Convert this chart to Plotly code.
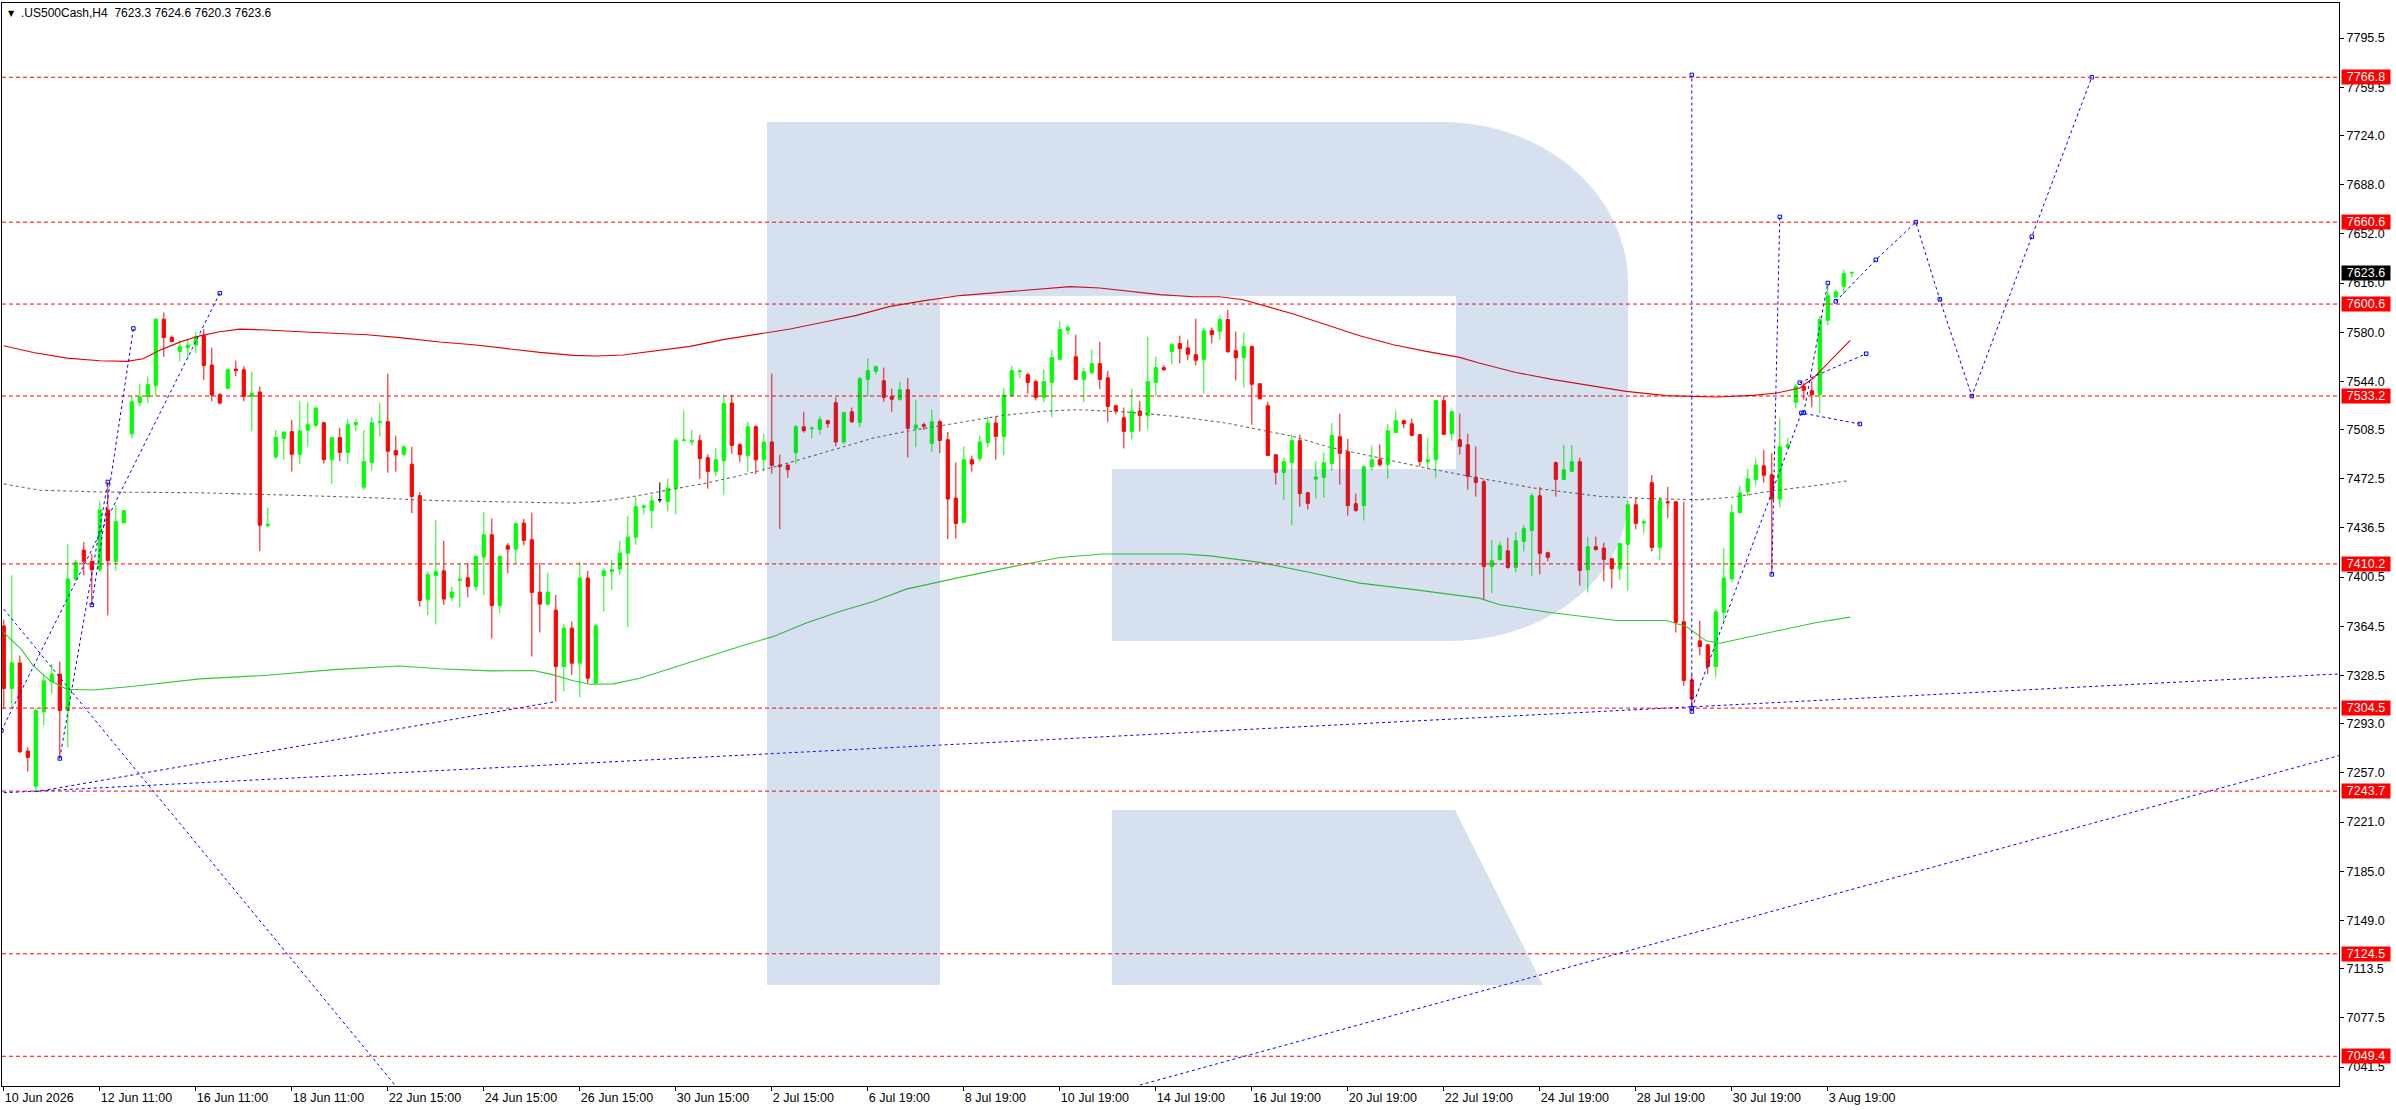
import plotly.graph_objects as go

SYMBOL = '.US500Cash,H4'
LAST_OHLC = [7623.3, 7624.6, 7620.3, 7623.6]

# H4 candles, oldest first (bar index = position in the list)
OPEN = [
    7364.7, 7318.8, 7337.6, 7273.0, 7247.3, 7302.0, 7324.0, 7329.4, 7302.8, 7399.1,
    7420.3, 7411.9, 7405.9, 7449.8, 7411.9, 7440.3, 7505.4, 7528.5, 7532.6, 7540.7,
    7589.5, 7576.2, 7565.9, 7568.6, 7570.5, 7577.6, 7555.9, 7534.2, 7538.8, 7552.9,
    7552.4, 7532.8, 7536.1, 7438.2, 7488.6, 7502.2, 7507.1, 7490.5, 7508.2, 7511.7,
    7513.6, 7486.7, 7502.7, 7491.9, 7512.2, 7466.4, 7484.6, 7513.6, 7514.4, 7493.2,
    7490.5, 7483.2, 7460.2, 7384.2, 7401.8, 7405.1, 7385.6, 7398.1, 7400.0, 7393.7,
    7415.2, 7431.5, 7379.7, 7423.5, 7421.0, 7440.1, 7427.9, 7389.5, 7380.7, 7376.3,
    7335.0, 7363.1, 7337.4, 7399.8, 7322.8, 7401.7, 7404.6, 7406.4, 7418.1, 7429.8,
    7451.6, 7449.4, 7457.2, 7456.0, 7465.3, 7500.7, 7499.5, 7500.5, 7488.0, 7478.0,
    7485.8, 7528.1, 7497.5, 7489.7, 7510.7, 7486.5, 7499.5, 7482.6, 7482.6, 7491.7,
    7510.7, 7509.3, 7508.8, 7515.1, 7528.3, 7499.5, 7521.7, 7513.9, 7545.4, 7551.3,
    7544.4, 7533.0, 7530.8, 7537.8, 7509.5, 7512.2, 7498.5, 7514.4, 7501.2, 7458.4,
    7440.6, 7486.5, 7487.3, 7499.0, 7513.4, 7503.6, 7533.4, 7551.0, 7548.8, 7543.7,
    7532.2, 7543.2, 7560.1, 7581.4, 7562.0, 7545.4, 7550.3, 7556.9, 7546.6, 7526.1,
    7517.3, 7507.3, 7522.2, 7519.0, 7543.2, 7554.0, 7565.7, 7571.6, 7568.4, 7563.5,
    7560.1, 7581.1, 7580.6, 7589.2, 7566.4, 7561.3, 7569.4, 7542.2, 7526.1, 7490.2,
    7477.2, 7484.6, 7500.5, 7462.3, 7472.3, 7473.6, 7483.8, 7503.4, 7492.4, 7454.3,
    7453.0, 7481.4, 7486.5, 7483.1, 7506.3, 7515.1, 7512.9, 7504.9, 7485.1, 7486.5,
    7529.8, 7505.6, 7501.2, 7497.5, 7473.8, 7470.4, 7408.3, 7413.2, 7419.8, 7407.6,
    7426.7, 7434.7, 7460.1, 7418.4, 7484.3, 7472.1, 7478.0, 7485.1, 7405.9, 7422.8,
    7421.8, 7414.0, 7406.6, 7424.5, 7453.5, 7440.1, 7469.7, 7422.3, 7455.7, 7455.7,
    7367.8, 7325.2, 7353.8, 7350.9, 7335.0, 7374.6, 7399.3, 7447.7, 7463.1, 7472.1,
    7482.1, 7475.5, 7457.7, 7495.6, 7528.6, 7540.3, 7537.1, 7534.2, 7588.7, 7605.6,
    7613.6, 7623.3,
]
HIGH = [
    7369.3, 7401.8, 7343.0, 7275.7, 7304.2, 7328.6, 7336.8, 7338.6, 7424.9, 7413.2,
    7426.2, 7417.6, 7456.1, 7470.2, 7453.4, 7449.8, 7533.4, 7542.3, 7547.5, 7590.3,
    7594.4, 7577.6, 7574.1, 7574.1, 7580.3, 7582.2, 7568.6, 7535.3, 7553.2, 7559.1,
    7555.1, 7551.0, 7540.2, 7451.5, 7508.4, 7507.3, 7515.7, 7529.3, 7528.5, 7525.2,
    7514.4, 7503.0, 7509.8, 7516.3, 7516.3, 7508.2, 7517.9, 7528.0, 7549.6, 7504.1,
    7497.6, 7496.0, 7462.9, 7404.5, 7442.5, 7427.1, 7393.4, 7410.8, 7410.8, 7416.6,
    7448.4, 7443.5, 7416.6, 7425.4, 7440.6, 7443.3, 7447.7, 7410.8, 7403.7, 7387.5,
    7366.3, 7368.0, 7411.7, 7405.1, 7366.3, 7407.1, 7413.2, 7427.1, 7445.0, 7459.6,
    7453.5, 7460.9, 7469.9, 7472.6, 7502.4, 7522.5, 7508.5, 7504.9, 7490.4, 7495.3,
    7534.2, 7534.2, 7498.7, 7514.4, 7511.9, 7505.6, 7549.6, 7490.2, 7483.6, 7511.9,
    7521.7, 7511.0, 7518.3, 7515.9, 7532.0, 7521.7, 7524.7, 7547.4, 7560.6, 7555.4,
    7554.0, 7538.6, 7543.5, 7546.4, 7530.5, 7513.7, 7523.2, 7515.9, 7506.8, 7484.6,
    7496.3, 7489.5, 7504.4, 7518.3, 7518.3, 7538.8, 7555.4, 7552.5, 7550.3, 7545.2,
    7552.5, 7567.2, 7587.7, 7585.5, 7578.2, 7553.7, 7567.2, 7573.0, 7551.8, 7526.1,
    7524.7, 7538.6, 7529.5, 7576.7, 7562.0, 7555.9, 7572.3, 7577.4, 7574.5, 7589.9,
    7583.1, 7583.3, 7592.1, 7596.5, 7580.6, 7579.6, 7570.4, 7542.2, 7529.0, 7490.2,
    7488.0, 7504.9, 7504.9, 7463.1, 7485.5, 7491.7, 7513.4, 7520.3, 7501.9, 7461.8,
    7482.4, 7497.0, 7497.8, 7512.9, 7522.5, 7515.9, 7516.6, 7504.9, 7502.9, 7529.8,
    7533.4, 7522.7, 7520.3, 7505.6, 7496.3, 7471.9, 7427.9, 7426.4, 7429.4, 7433.5,
    7438.6, 7462.1, 7466.5, 7419.1, 7485.3, 7497.5, 7497.3, 7488.0, 7430.1, 7430.1,
    7425.7, 7414.0, 7425.9, 7456.7, 7459.2, 7443.0, 7475.3, 7459.2, 7466.7, 7455.7,
    7455.7, 7328.9, 7368.5, 7350.9, 7377.1, 7421.8, 7453.5, 7467.5, 7479.7, 7487.3,
    7493.9, 7491.4, 7516.6, 7502.7, 7542.3, 7543.0, 7544.0, 7591.6, 7616.1, 7611.2,
    7625.8, 7624.6,
]
LOW = [
    7304.2, 7304.2, 7271.7, 7258.1, 7243.2, 7292.0, 7315.1, 7267.6, 7275.7, 7397.8,
    7401.8, 7380.1, 7404.5, 7372.5, 7405.1, 7439.8, 7502.2, 7525.8, 7528.0, 7533.4,
    7561.9, 7572.7, 7558.6, 7560.2, 7564.6, 7544.8, 7529.3, 7527.1, 7538.8, 7547.7,
    7529.3, 7507.6, 7419.5, 7437.1, 7486.7, 7486.5, 7477.8, 7483.2, 7496.2, 7510.3,
    7483.7, 7468.8, 7485.4, 7483.2, 7507.6, 7464.2, 7478.6, 7503.5, 7477.0, 7477.8,
    7489.2, 7447.4, 7378.8, 7372.5, 7365.8, 7380.2, 7382.7, 7378.3, 7385.6, 7390.7,
    7387.3, 7355.5, 7374.1, 7403.2, 7410.8, 7423.7, 7342.3, 7359.9, 7379.7, 7309.3,
    7316.7, 7328.9, 7312.5, 7322.8, 7322.3, 7375.3, 7391.2, 7402.2, 7363.8, 7424.2,
    7446.2, 7436.2, 7455.2, 7448.6, 7446.4, 7500.0, 7497.0, 7472.6, 7465.3, 7474.3,
    7460.9, 7490.9, 7484.6, 7477.5, 7476.0, 7478.0, 7476.3, 7435.7, 7473.3, 7483.6,
    7506.3, 7502.2, 7504.9, 7510.0, 7496.3, 7497.8, 7513.4, 7510.2, 7533.0, 7549.1,
    7529.0, 7521.7, 7529.8, 7488.2, 7495.6, 7508.3, 7492.4, 7491.4, 7428.4, 7428.8,
    7439.8, 7477.7, 7485.1, 7495.6, 7486.5, 7489.7, 7533.4, 7546.2, 7534.9, 7530.0,
    7528.6, 7517.6, 7560.1, 7578.2, 7545.4, 7528.6, 7549.1, 7538.1, 7513.9, 7519.8,
    7494.8, 7501.4, 7507.3, 7508.8, 7533.0, 7551.5, 7556.4, 7557.2, 7559.4, 7555.7,
    7534.9, 7571.8, 7574.5, 7564.7, 7544.7, 7539.6, 7512.2, 7530.8, 7489.7, 7468.2,
    7457.2, 7438.9, 7452.1, 7450.1, 7458.2, 7458.9, 7478.5, 7468.2, 7445.5, 7448.4,
    7442.0, 7478.5, 7481.4, 7472.6, 7506.3, 7509.5, 7503.6, 7481.6, 7479.9, 7473.3,
    7505.1, 7500.5, 7490.2, 7464.5, 7459.4, 7383.9, 7388.8, 7413.2, 7406.6, 7403.9,
    7419.3, 7401.5, 7402.5, 7412.0, 7459.4, 7471.4, 7478.0, 7394.4, 7389.3, 7419.8,
    7397.3, 7392.2, 7398.6, 7390.7, 7435.5, 7432.5, 7419.3, 7412.7, 7443.5, 7359.9,
    7320.8, 7305.7, 7343.3, 7329.4, 7327.0, 7368.0, 7396.8, 7447.4, 7459.7, 7467.7,
    7469.7, 7404.7, 7451.6, 7495.1, 7524.4, 7530.5, 7524.9, 7520.8, 7585.0, 7605.6,
    7607.5, 7620.3,
]
CLOSE = [
    7318.8, 7337.6, 7272.5, 7268.4, 7302.8, 7324.5, 7329.4, 7302.8, 7399.1, 7411.3,
    7412.1, 7405.9, 7449.8, 7412.7, 7441.2, 7449.3, 7529.0, 7532.6, 7541.5, 7589.5,
    7576.0, 7573.2, 7569.4, 7570.5, 7576.8, 7555.6, 7533.9, 7528.0, 7552.4, 7551.8,
    7532.8, 7535.3, 7438.5, 7439.3, 7503.0, 7506.8, 7490.5, 7507.6, 7512.2, 7524.4,
    7486.7, 7502.7, 7491.9, 7512.2, 7513.8, 7485.1, 7513.6, 7514.4, 7492.7, 7490.0,
    7495.9, 7459.6, 7383.4, 7402.4, 7404.5, 7384.4, 7389.5, 7399.0, 7393.7, 7415.6,
    7431.5, 7379.7, 7415.6, 7421.0, 7439.6, 7427.4, 7389.3, 7380.7, 7389.5, 7335.0,
    7363.1, 7337.4, 7399.8, 7326.4, 7364.8, 7405.1, 7405.9, 7418.1, 7429.8, 7452.1,
    7452.6, 7456.5, 7457.2, 7465.7, 7500.5, 7501.0, 7500.5, 7487.3, 7478.0, 7486.5,
    7527.6, 7497.0, 7490.2, 7510.7, 7486.5, 7499.5, 7482.4, 7481.6, 7479.2, 7510.7,
    7507.8, 7509.7, 7515.9, 7512.9, 7499.5, 7521.0, 7514.4, 7545.9, 7551.8, 7554.7,
    7532.2, 7530.8, 7537.8, 7509.5, 7511.9, 7511.0, 7514.4, 7500.7, 7457.7, 7439.8,
    7486.5, 7483.3, 7499.5, 7513.4, 7503.6, 7533.9, 7551.8, 7551.5, 7543.2, 7532.2,
    7543.7, 7561.3, 7581.8, 7583.3, 7545.4, 7551.0, 7556.9, 7545.4, 7525.6, 7522.2,
    7507.3, 7522.2, 7519.0, 7543.7, 7554.0, 7552.5, 7570.8, 7567.9, 7563.8, 7559.4,
    7581.1, 7578.2, 7589.2, 7565.7, 7561.3, 7569.4, 7541.8, 7531.2, 7489.7, 7477.2,
    7485.1, 7500.5, 7461.8, 7454.5, 7473.8, 7484.3, 7504.4, 7491.2, 7453.0, 7449.4,
    7481.4, 7486.5, 7482.9, 7507.8, 7515.1, 7512.9, 7504.4, 7485.3, 7486.5, 7529.8,
    7505.1, 7521.7, 7496.3, 7474.3, 7469.9, 7408.3, 7412.5, 7423.5, 7407.6, 7427.2,
    7436.0, 7460.1, 7417.9, 7414.9, 7472.1, 7479.2, 7485.1, 7405.4, 7422.8, 7420.8,
    7413.5, 7406.6, 7425.0, 7453.5, 7439.9, 7441.1, 7422.3, 7456.7, 7455.0, 7367.3,
    7324.8, 7311.1, 7349.7, 7335.0, 7375.1, 7399.8, 7447.7, 7462.1, 7472.6, 7482.6,
    7475.1, 7457.7, 7496.1, 7497.5, 7540.3, 7537.4, 7534.2, 7589.2, 7606.8, 7609.5,
    7622.9, 7623.6,
]

# time axis labels and the bar they sit on
DATE_BARS = [0, 12, 24, 36, 48, 60, 72, 84, 96, 108,
             120, 132, 144, 156, 168, 180, 192, 204, 216, 228]
DATE_LABELS = ['10 Jun 2026', '12 Jun 11:00', '16 Jun 11:00', '18 Jun 11:00',
               '22 Jun 15:00', '24 Jun 15:00', '26 Jun 15:00', '30 Jun 15:00',
               '2 Jul 15:00', '6 Jul 19:00', '8 Jul 19:00', '10 Jul 19:00',
               '14 Jul 19:00', '16 Jul 19:00', '20 Jul 19:00', '22 Jul 19:00',
               '24 Jul 19:00', '28 Jul 19:00', '30 Jul 19:00', '3 Aug 19:00']

PRICE_TICKS = [7795.5, 7759.5, 7724.0, 7688.0, 7652.0, 7616.0, 7580.0, 7544.0,
               7508.5, 7472.5, 7436.5, 7400.5, 7364.5, 7328.5, 7293.0, 7257.0,
               7221.0, 7185.0, 7149.0, 7113.5, 7077.5, 7041.5]

LEVELS = [7766.8, 7660.6, 7600.6, 7533.2, 7410.2, 7304.5, 7243.7, 7124.5, 7049.4]
LAST_PRICE = 7623.6

# envelope style indicator at sample bars
MA_UP_X = [0, 3.7, 7.9, 12, 15.4, 17.4, 19.5, 22, 24.5, 27, 29.5, 32.9, 37, 41.2,
           45.4, 49.5, 54.5, 58.7, 62.8, 67, 71.2, 74.1, 77.4, 81.6, 85.8, 89.9,
           94.1, 98.3, 102.4, 106.6, 110.8, 114.9, 119.5, 123.7, 127.8, 131.2,
           133.3, 137, 140.3, 144.5, 148.7, 152, 154.9, 157.8, 161.2, 165.3,
           169.5, 173.7, 177.8, 182, 184.4, 189, 193.7, 202.8, 207.8, 214,
           218.7, 221.6, 224.5, 226.2, 230.8]
MA_UP_Y = [7570.0, 7565.1, 7561.0, 7559.1, 7558.6, 7560.5, 7566.7, 7572.7, 7577.3,
           7580.3, 7582.2, 7581.6, 7580.3, 7579.2, 7578.1, 7576.0, 7572.8, 7570.8,
           7567.9, 7565.2, 7563.0, 7562.5, 7563.3, 7566.4, 7569.6, 7574.5, 7578.4,
           7582.3, 7587.2, 7592.3, 7598.9, 7602.9, 7606.8, 7608.7, 7610.9, 7612.1,
           7613.4, 7612.4, 7610.4, 7607.5, 7606.0, 7606.0, 7603.8, 7598.9, 7593.3,
           7585.5, 7577.4, 7570.8, 7565.9, 7561.5, 7557.4, 7550.5, 7545.2, 7536.6,
           7533.5, 7532.5, 7533.7, 7535.4, 7539.1, 7546.4, 7574.0]
MA_MID_X = [0, 4.5, 12, 24.5, 35, 45.4, 54.5, 71.2, 75.3, 78.7, 83.7, 87.8, 92,
            96.2, 100.3, 104.5, 108.7, 112.8, 119.5, 124.9, 129.9, 134.1, 140.3,
            146.6, 152.8, 157, 161.2, 165.3, 169.5, 173.7, 177.8, 184.4, 187,
            191.2, 199.5, 205.8, 212, 216.2, 221.6, 226.6, 230.5]
MA_MID_Y = [7468.8, 7464.2, 7462.9, 7462.3, 7460.7, 7458.8, 7456.5, 7454.7, 7456.5,
            7459.6, 7465.0, 7469.4, 7474.8, 7481.1, 7488.0, 7495.1, 7502.4, 7507.3,
            7513.8, 7519.0, 7522.0, 7523.2, 7521.5, 7518.3, 7513.4, 7508.5, 7503.6,
            7496.3, 7490.9, 7485.3, 7480.4, 7473.1, 7470.5, 7465.8, 7459.7, 7458.0,
            7457.2, 7459.2, 7464.1, 7467.7, 7471.1]
MA_LOW_X = [0, 2.2, 3.7, 5.8, 7.9, 11.2, 16.2, 24.5, 32.9, 41.2, 49.5, 54.5, 60.8,
            66.2, 68.3, 71.2, 73.3, 76.2, 79.5, 83.7, 87.8, 92, 96.2, 100.3, 104.5,
            108.7, 112.8, 119.5, 125.8, 132, 137.4, 147.4, 150.8, 157, 163.3,
            169.5, 175.8, 184.4, 187, 193.3, 201.6, 207.8, 210.3, 212.8, 214.5,
            220.3, 226.6, 230.8]
MA_LOW_Y = [7359.8, 7347.6, 7335.4, 7324.5, 7318.3, 7317.8, 7320.5, 7325.9, 7328.6,
            7332.7, 7335.4, 7333.3, 7331.8, 7332.1, 7329.4, 7324.5, 7322.0, 7322.3,
            7326.4, 7334.3, 7342.3, 7349.7, 7357.0, 7366.8, 7375.3, 7382.7, 7391.7,
            7400.3, 7407.8, 7414.9, 7417.4, 7417.4, 7416.1, 7411.3, 7403.9, 7396.1,
            7391.7, 7385.1, 7380.2, 7374.6, 7368.7, 7368.7, 7364.3, 7353.8, 7352.1,
            7359.5, 7367.3, 7371.2]

# hand drawn analysis lines (bar, price)
SUPPORT_LOW_X, SUPPORT_LOW_Y = [4, 69], [7243.2, 7309.3]
SUPPORT_LONG_X, SUPPORT_LONG_Y = [0, 292], [7242.5, 7329.6]
SUPPORT_FAR_X, SUPPORT_FAR_Y = [142, 292], [7028.3, 7269.9]
FALLING_X, FALLING_Y = [0, 49], [7377.0, 7027.6]
WAVE_A_X, WAVE_A_Y = [-0.3, 27], [7288.0, 7608.5]
WAVE_B_X, WAVE_B_Y = [7, 13], [7267.6, 7470.2]
WAVE_C_X, WAVE_C_Y = [11, 16.2], [7380.1, 7582.7]
TARGET_X, TARGET_Y = [211, 211], [7302.0, 7768.5]
TARGET2_X, TARGET2_Y = [221, 222], [7402.5, 7664.5]
IMPULSE_X, IMPULSE_Y = [211, 224.7, 232], [7304.5, 7520.8, 7512.7]
SPIKE_X, SPIKE_Y = [225, 228], [7521.0, 7616.0]
CHANNEL_X, CHANNEL_Y = [224.5, 232.8], [7543.0, 7564.2]
FORECAST_X = [229, 234, 239, 242, 246, 253.5, 261]
FORECAST_Y = [7602.6, 7633.0, 7660.6, 7604.0, 7533.2, 7650.0, 7766.8]

FONT = 'Liberation Sans, Arial, sans-serif'
BULL = 'rgb(0,255,0)'
BEAR = 'rgb(255,0,0)'
BLUE = 'rgb(0,0,255)'

# plot area in screen pixels (used for the logo watermark only)
PLOT_L, PLOT_W, PLOT_B, PLOT_H = 2, 2337, 1086, 1083

bars = list(range(len(OPEN)))
doji = [o == c for o, c in zip(OPEN, CLOSE)]
solid = [not d for d in doji]


def pick(seq, keep):
    return [v for v, k in zip(seq, keep) if k]


fig = go.Figure()

fig.add_trace(go.Candlestick(
    x=pick(bars, solid), open=pick(OPEN, solid), high=pick(HIGH, solid),
    low=pick(LOW, solid), close=pick(CLOSE, solid),
    increasing=dict(line=dict(color=BULL, width=1), fillcolor=BULL),
    decreasing=dict(line=dict(color=BEAR, width=1), fillcolor=BEAR),
    whiskerwidth=0, showlegend=False,
))
fig.add_trace(go.Candlestick(
    x=pick(bars, doji), open=pick(OPEN, doji), high=pick(HIGH, doji),
    low=pick(LOW, doji), close=pick(CLOSE, doji),
    increasing=dict(line=dict(color='black', width=1), fillcolor='black'),
    decreasing=dict(line=dict(color='black', width=1), fillcolor='black'),
    whiskerwidth=0, showlegend=False,
))

fig.add_trace(go.Scatter(x=MA_UP_X, y=MA_UP_Y, mode='lines',
                         line=dict(color='rgb(230,0,0)', width=1.1), showlegend=False))
fig.add_trace(go.Scatter(x=MA_MID_X, y=MA_MID_Y, mode='lines',
                         line=dict(color='rgb(105,105,105)', width=1.1, dash='3px,3px'),
                         showlegend=False))
fig.add_trace(go.Scatter(x=MA_LOW_X, y=MA_LOW_Y, mode='lines',
                         line=dict(color='rgb(50,200,50)', width=1.1), showlegend=False))

plain_lines = [
    (SUPPORT_LOW_X, SUPPORT_LOW_Y), (SUPPORT_LONG_X, SUPPORT_LONG_Y),
    (SUPPORT_FAR_X, SUPPORT_FAR_Y), (FALLING_X, FALLING_Y),
]
marked_lines = [
    (WAVE_A_X, WAVE_A_Y), (WAVE_B_X, WAVE_B_Y), (WAVE_C_X, WAVE_C_Y),
    (TARGET_X, TARGET_Y), (TARGET2_X, TARGET2_Y), (IMPULSE_X, IMPULSE_Y),
    (SPIKE_X, SPIKE_Y), (CHANNEL_X, CHANNEL_Y), (FORECAST_X, FORECAST_Y),
]
for xs, ys in plain_lines:
    fig.add_trace(go.Scatter(x=xs, y=ys, mode='lines',
                             line=dict(color=BLUE, width=1, dash='3px,3px'),
                             showlegend=False))
for xs, ys in marked_lines:
    fig.add_trace(go.Scatter(x=xs, y=ys, mode='lines+markers',
                             line=dict(color=BLUE, width=1, dash='3px,3px'),
                             marker=dict(symbol='square-open', size=3.5, color=BLUE,
                                         line=dict(width=1, color=BLUE)),
                             showlegend=False))

for lvl in LEVELS:
    fig.add_shape(type='line', xref='paper', x0=0, x1=1, yref='y', y0=lvl, y1=lvl,
                  line=dict(color='rgb(255,0,0)', width=1, dash='4px,3px'))
    fig.add_annotation(xref='paper', x=1, xanchor='left', xshift=2,
                       yref='y', y=lvl, yanchor='middle',
                       text=f'{lvl:.1f}', showarrow=False,
                       font=dict(family=FONT, size=12.5, color='white'),
                       bgcolor='rgb(255,0,0)', borderpad=0, width=48, height=14)
fig.add_annotation(xref='paper', x=1, xanchor='left', xshift=2,
                   yref='y', y=LAST_PRICE, yanchor='middle',
                   text=f'{LAST_PRICE:.1f}', showarrow=False,
                   font=dict(family=FONT, size=12.5, color='white'),
                   bgcolor='black', borderpad=0, width=48, height=14)


# RoboForex style "R" watermark, drawn in screen pixels then mapped to paper
def pt(px, py):
    return f'{(px - PLOT_L) / PLOT_W:.5f},{(PLOT_B - py) / PLOT_H:.5f}'


K = 0.5523
logo = ' '.join([
    'M', pt(767, 122), 'L', pt(1442, 122),
    'C', pt(1442 + K * 186, 122), pt(1628, 283 - K * 161), pt(1628, 283),
    'L', pt(1628, 497),
    'C', pt(1628, 497 + K * 144), pt(1449 + K * 179, 641), pt(1449, 641),
    'L', pt(1112, 641), 'L', pt(1112, 469), 'L', pt(1456, 469),
    'L', pt(1456, 296), 'L', pt(940, 296), 'L', pt(940, 985), 'L', pt(767, 985), 'Z',
    'M', pt(1112, 810), 'L', pt(1455, 810), 'L', pt(1543, 985), 'L', pt(1112, 985), 'Z',
])
fig.add_shape(type='path', xref='paper', yref='paper', path=logo,
              fillcolor='rgba(49,98,171,0.2)', line=dict(width=0), layer='above')

fig.add_annotation(xref='paper', x=0, xanchor='left', xshift=4,
                   yref='paper', y=1, yanchor='middle', yshift=-10,
                   text='\u25bc', showarrow=False,
                   font=dict(family='DejaVu Sans', size=8, color='black'))
fig.add_annotation(xref='paper', x=0, xanchor='left', xshift=17,
                   yref='paper', y=1, yanchor='middle', yshift=-10,
                   text=SYMBOL + '\u00a0\u00a0' + ' '.join(f'{v:.1f}' for v in LAST_OHLC),
                   showarrow=False, font=dict(family=FONT, size=12, color='black'))

fig.update_layout(
    width=2396, height=1110,
    margin=dict(l=2, r=57, t=3, b=24),
    paper_bgcolor='white', plot_bgcolor='white',
    showlegend=False, boxgap=0.44, boxmode='overlay',
    font=dict(family=FONT, size=12.5, color='black'),
    xaxis=dict(range=[-0.225, 291.9], tickmode='array', tickvals=DATE_BARS,
               ticktext=DATE_LABELS, ticks='outside', ticklen=4, tickcolor='black',
               ticklabelposition='outside right', showline=True, linecolor='black',
               linewidth=1, mirror=True, showgrid=False, zeroline=False,
               rangeslider=dict(visible=False), fixedrange=True,
               tickfont=dict(family=FONT, size=12.5, color='black')),
    yaxis=dict(side='right', range=[7027.6, 7821.2], tickmode='array',
               tickvals=PRICE_TICKS, ticktext=[f'{v:.1f}' for v in PRICE_TICKS],
               ticks='outside', ticklen=4, tickcolor='black', showline=True,
               linecolor='black', linewidth=1, mirror=True, showgrid=False,
               zeroline=False, fixedrange=True,
               tickfont=dict(family=FONT, size=12.5, color='black')),
)

fig.write_html('out.html', config={'displayModeBar': False},
               post_script="document.body.style.margin='0px';")
